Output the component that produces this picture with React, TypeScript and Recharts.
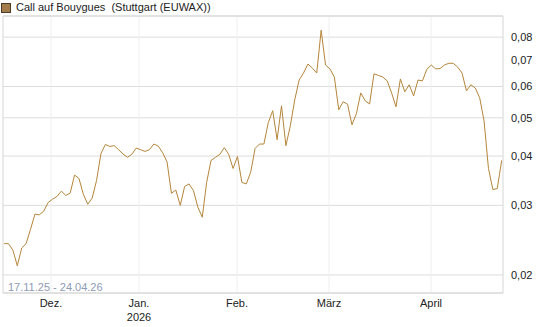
import { LineChart, Line, XAxis, YAxis, CartesianGrid, ReferenceLine } from "recharts";

// Kursverlauf 17.11.25 - 24.04.26, ein Wert je Handelstag
const prices = [
  0.024, 0.024, 0.0231, 0.0211, 0.0234, 0.024, 0.0261, 0.0285, 0.0284, 0.029,
  0.0305, 0.0311, 0.0316, 0.0326, 0.0318, 0.0322, 0.0358, 0.0351, 0.032, 0.0302,
  0.0313, 0.0347, 0.0406, 0.0428, 0.0423, 0.0425, 0.0415, 0.0405, 0.0397, 0.0404,
  0.0419, 0.0415, 0.0411, 0.0415, 0.0429, 0.0424, 0.0408, 0.0387, 0.0322, 0.0328,
  0.03, 0.0335, 0.034, 0.0327, 0.0297, 0.028, 0.0343, 0.039, 0.0397, 0.0404,
  0.042, 0.0404, 0.0372, 0.0399, 0.0343, 0.034, 0.0364, 0.0418, 0.0429, 0.0429,
  0.0486, 0.0521, 0.044, 0.0536, 0.0425, 0.0477, 0.0555, 0.0623, 0.0649, 0.0684,
  0.0668, 0.0649, 0.0833, 0.068, 0.0665, 0.0634, 0.0524, 0.0549, 0.0541, 0.048,
  0.0512, 0.0578, 0.0552, 0.0542, 0.0646, 0.064, 0.0634, 0.062, 0.0578, 0.0533,
  0.0627, 0.0582, 0.0606, 0.0568, 0.0623, 0.062, 0.0663, 0.068, 0.0665, 0.0666,
  0.068, 0.0687, 0.0687, 0.0672, 0.0649, 0.0585, 0.0606, 0.0595, 0.0562, 0.0491,
  0.0372, 0.0329, 0.0331, 0.039,
];

// Monatsanfänge als Position im Handelstag-Index
const monthPos = [10.65, 30.64, 52.9, 73.8, 96.96];
const monthLabels = ["Dez.", "Jan.", "Feb.", "März", "April"];
const yearLabels = ["", "2026", "", "", ""];

const yTicks = [0.02, 0.03, 0.04, 0.05, 0.06, 0.07, 0.08];

const data = prices.map((p, i) => ({ i, p }));

const fmt = (v: number) => v.toFixed(2).replace(".", ",");

function MonthTick(props: any) {
  const { x, y, payload } = props;
  const idx = monthPos.indexOf(payload.value);
  return (
    <g>
      <text x={x} y={y + 6} textAnchor="middle" fontSize={11} fill="#222">
        {monthLabels[idx]}
      </text>
      {yearLabels[idx] && (
        <text x={x} y={y + 20} textAnchor="middle" fontSize={11} fill="#222">
          {yearLabels[idx]}
        </text>
      )}
    </g>
  );
}

export default function App() {
  return (
    <div style={{ position: "absolute", left: 0, top: 0, fontFamily: "'Liberation Sans', Arial, sans-serif" }}>
      <div style={{ position: "absolute", left: 1, top: 3, width: 8, height: 8, background: "#a47c4c", border: "1px solid #4b3b29" }} />
      <div style={{ position: "absolute", left: 16, top: 0, fontSize: 11, color: "#222", lineHeight: "14px", whiteSpace: "pre" }}>
        Call auf Bouygues  (Stuttgart (EUWAX))
      </div>
      <LineChart width={545} height={327} data={data} margin={{ top: 16, right: 0, left: 3, bottom: 0 }}>
        <CartesianGrid stroke="#dcdcdc" vertical={false} />
        <XAxis
          dataKey="i"
          type="number"
          domain={[-0.25, 113.3]}
          ticks={monthPos}
          tick={<MonthTick />}
          tickLine={false}
          axisLine={{ stroke: "#d6d6d6" }}
          height={34}
          interval={0}
        />
        <YAxis
          orientation="right"
          scale="log"
          domain={[0.018, 0.0905]}
          ticks={yTicks}
          tickFormatter={fmt}
          tickLine={false}
          axisLine={{ stroke: "#d6d6d6" }}
          tick={{ fontSize: 11, fill: "#222", textAnchor: "start" }}
          width={42}
          allowDataOverflow
        />
        {monthPos.map((m) => (
          <ReferenceLine key={m} x={m} stroke="#efefef" />
        ))}
        <ReferenceLine x={-0.25} stroke="#d6d6d6" />
        <ReferenceLine y={0.0905} stroke="#d6d6d6" />
        <Line
          dataKey="p"
          stroke="#b5853a"
          strokeWidth={1}
          dot={false}
          isAnimationActive={false}
        />
        <text x={8} y={291} fontSize={11} fill="#8d9bb3">
          17.11.25 - 24.04.26
        </text>
      </LineChart>
    </div>
  );
}
